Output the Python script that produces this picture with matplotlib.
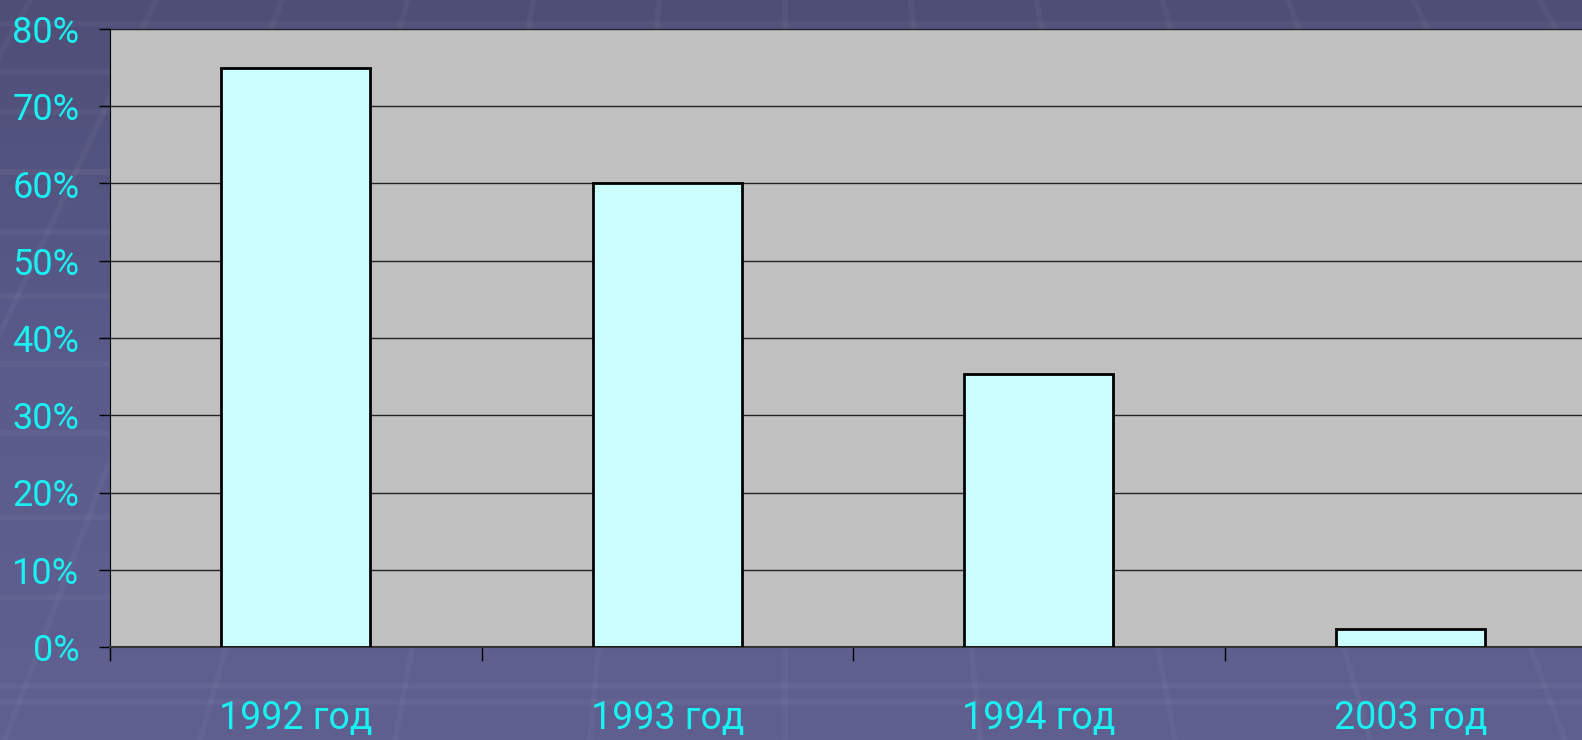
import numpy as np
import matplotlib
matplotlib.use("Agg")
import matplotlib.pyplot as plt
from matplotlib import font_manager
from matplotlib.ticker import FuncFormatter

# data
years = ['1992 год', '1993 год', '1994 год', '2003 год']
shares = [75, 60, 35.3, 2.3]
yticks = [0, 10, 20, 30, 40, 50, 60, 70, 80]

bg = '#5b5b8c'
label_col = '#18f2f2'

# look for a narrow face (Arial Narrow look), otherwise Roboto
fp = None
for f in font_manager.fontManager.ttflist:
    n = f.fname.lower()
    if ('narrow' in n or 'condensed' in n) and 'bold' not in n and 'italic' not in n and 'oblique' not in n:
        if 'liberation' in n or 'arial' in n:
            fp = font_manager.FontProperties(fname=f.fname)
            break
if fp is not None:
    xsize, ysize = 32, 31
else:
    fp = font_manager.FontProperties(family=['Roboto', 'DejaVu Sans'])
    xsize, ysize = 27, 26

fig = plt.figure(figsize=(15.82, 7.40), dpi=100, facecolor=bg)

# slide background: darker at the top, faint perspective tiles
bax = fig.add_axes([0, 0, 1, 1], zorder=-10)
grad = np.linspace(0, 1, 200).reshape(-1, 1)
cmap = matplotlib.colors.LinearSegmentedColormap.from_list('bg', ['#5f5f90', '#5b5b8c', '#4e4e77'])
bax.imshow(grad, aspect='auto', extent=[0, 1582, 0, 740], cmap=cmap, origin='lower')
vx, vy = 785, 740 + 1344
for k in range(-6, 7):
    bax.plot([vx, vx + k * 195], [vy, 0], color='white', alpha=0.04, lw=4)
for yy in [24, 72, 112, 172, 232, 296, 364, 433, 517, 597, 686, 702]:
    bax.axhline(740 - yy, color='white', alpha=0.04, lw=4)
bax.set_xlim(0, 1582)
bax.set_ylim(0, 740)
bax.axis('off')

ax = fig.add_axes([110 / 1582, 93 / 740, 1486 / 1582, 618 / 740])
ax.set_facecolor('#c0c0c0')

x = np.arange(len(years))
ax.bar(x, shares, width=0.4, color='#ccffff', edgecolor='black', linewidth=2, zorder=3)

ax.set_xlim(-0.5, len(years) - 0.5)
ax.set_ylim(0, 80)
ax.set_yticks(yticks)
ax.yaxis.set_major_formatter(FuncFormatter(lambda v, p: '%d%%' % v))
ax.grid(axis='y', color='#222222', linewidth=1, zorder=1)

ax.set_xticks(x)
ax.set_xticklabels(years)
ax.set_xticks(np.arange(len(years)) - 0.5, minor=True)
ax.tick_params(axis='x', which='major', length=0, pad=38, labelcolor=label_col)
ax.tick_params(axis='x', which='minor', length=10, width=1, color='black', direction='out')
ax.tick_params(axis='y', length=8, width=1, color='black', pad=14, labelcolor=label_col)

for lab in ax.get_xticklabels():
    lab.set_fontproperties(fp)
    lab.set_fontsize(xsize)
for lab in ax.get_yticklabels():
    lab.set_fontproperties(fp)
    lab.set_fontsize(ysize)

for side in ['top', 'right']:
    ax.spines[side].set_visible(False)
ax.spines['left'].set_color('black')
ax.spines['bottom'].set_color('#333333')
ax.spines['bottom'].set_linewidth(1.5)

fig.savefig('out.png', dpi=100, facecolor=bg)
